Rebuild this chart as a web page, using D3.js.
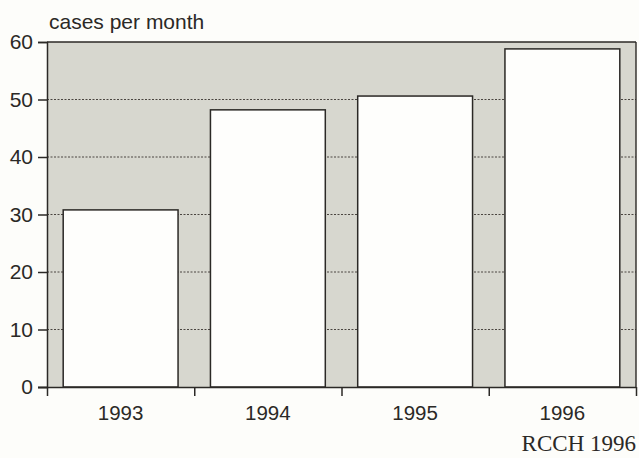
<!DOCTYPE html>
<html>
<head>
<meta charset="utf-8">
<script src="https://cdn.jsdelivr.net/npm/d3@7/dist/d3.min.js"></script>
<style>
  html, body { margin: 0; padding: 0; background: #fdfdfa; }
  svg { display: block; }
</style>
</head>
<body>
<svg id="chart" width="639" height="458"></svg>
<script>
// Monthly case counts by year
const years = ["1993", "1994", "1995", "1996"];
const casesPerMonth = [30.8, 48.2, 50.6, 58.8];
const yTicks = [0, 10, 20, 30, 40, 50, 60];
const yTitle = "cases per month";
const source = "RCCH 1996";

const W = 639, H = 458;
const margin = { top: 42, right: 3, bottom: 71, left: 47 };
const innerW = W - margin.left - margin.right;
const innerH = H - margin.top - margin.bottom;

const svg = d3.select("#chart");
const g = svg.append("g").attr("transform", `translate(${margin.left},${margin.top})`);

const x = d3.scaleBand().domain(years).range([0, innerW])
  .paddingInner(0.22).paddingOuter(0.11);
const y = d3.scaleLinear().domain([0, 60]).range([innerH, 0]);
// boundaries between year bands, used for x tick marks
const xb = d3.scaleLinear().domain([0, years.length]).range([0, innerW]);

const ink = "#2b2926";
const fontSans = "Liberation Sans, Arial, Helvetica, sans-serif";

// shaded plot background
g.append("rect")
  .attr("x", 0).attr("y", 0)
  .attr("width", innerW).attr("height", innerH)
  .attr("fill", "#d7d7cf");

// dotted gridlines
g.append("g").selectAll("line")
  .data(yTicks.filter(d => d > 0 && d < 60))
  .join("line")
  .attr("x1", 0).attr("x2", innerW)
  .attr("y1", d => y(d)).attr("y2", d => y(d))
  .attr("stroke", "#4a4540").attr("stroke-width", 1)
  .attr("stroke-dasharray", "2,1.5");

// frame: top and right edges
g.append("line").attr("x1", 0).attr("x2", innerW).attr("y1", 0).attr("y2", 0)
  .attr("stroke", ink).attr("stroke-width", 1.6);
g.append("line").attr("x1", innerW).attr("x2", innerW).attr("y1", 0).attr("y2", innerH)
  .attr("stroke", ink).attr("stroke-width", 1.4);

// bars
g.append("g").selectAll("rect")
  .data(casesPerMonth)
  .join("rect")
  .attr("x", (d, i) => x(years[i]))
  .attr("y", d => y(d))
  .attr("width", x.bandwidth())
  .attr("height", d => innerH - y(d))
  .attr("fill", "#fefefc")
  .attr("stroke", ink).attr("stroke-width", 1.5);

// y axis
const yAxis = g.append("g")
  .call(d3.axisLeft(y).tickValues(yTicks).tickSize(9).tickPadding(5));
yAxis.select(".domain").attr("stroke", ink).attr("stroke-width", 1.5);
yAxis.selectAll(".tick line").attr("stroke", ink).attr("stroke-width", 1.5);
yAxis.selectAll(".tick text")
  .attr("fill", ink).style("font-family", fontSans).style("font-size", "21px");

// x axis: ticks at band boundaries, labels centred in bands
const xAxis = g.append("g").attr("transform", `translate(0,${innerH})`)
  .call(d3.axisBottom(xb).tickValues(d3.range(years.length + 1)).tickSize(9).tickFormat(""));
xAxis.select(".domain").attr("stroke", ink).attr("stroke-width", 1.5)
  .attr("d", `M-9,0.5H${innerW}`);
xAxis.selectAll(".tick line").attr("stroke", ink).attr("stroke-width", 1.5);

g.append("g").selectAll("text")
  .data(years)
  .join("text")
  .attr("x", d => x(d) + x.bandwidth() / 2)
  .attr("y", innerH + 33)
  .attr("text-anchor", "middle")
  .attr("fill", ink)
  .style("font-family", fontSans).style("font-size", "20.5px")
  .text(d => d);

// axis title
svg.append("text")
  .attr("x", 49).attr("y", 29)
  .attr("fill", ink)
  .style("font-family", fontSans).style("font-size", "21px")
  .text(yTitle);

// source note
svg.append("text")
  .attr("x", 636).attr("y", 451)
  .attr("text-anchor", "end")
  .attr("fill", ink)
  .style("font-family", "Liberation Serif, Times New Roman, serif").style("font-size", "23px")
  .text(source);
</script>
</body>
</html>
